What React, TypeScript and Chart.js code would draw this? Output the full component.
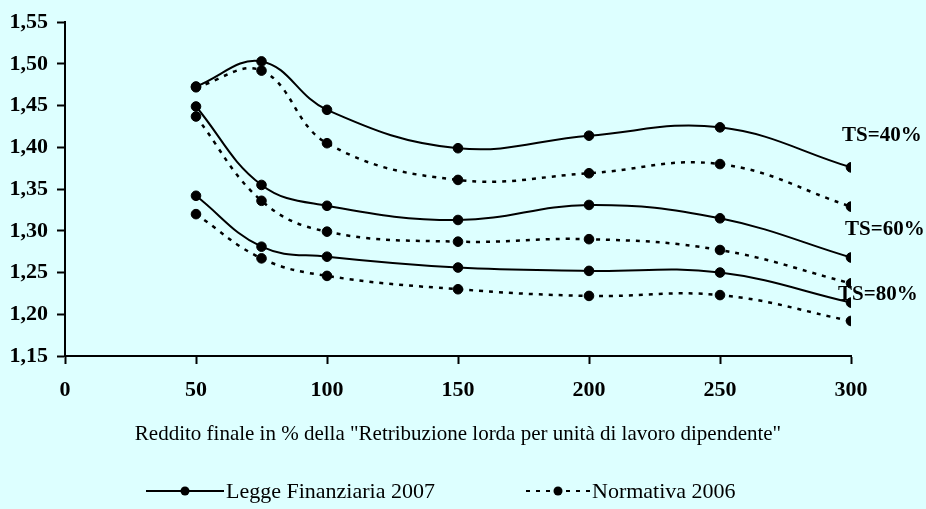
import React, { useEffect, useRef } from 'react';
import { Chart, registerables } from 'chart.js';

Chart.register(...registerables);

// ---- data ----
const xValues = [50, 75, 100, 150, 200, 250, 300];
const ts40Legge2007 = [1.473, 1.503, 1.445, 1.399, 1.414, 1.424, 1.376];
const ts40Normativa2006 = [1.472, 1.492, 1.405, 1.361, 1.369, 1.380, 1.329];
const ts60Legge2007 = [1.449, 1.355, 1.330, 1.313, 1.331, 1.315, 1.268];
const ts60Normativa2006 = [1.437, 1.336, 1.299, 1.287, 1.290, 1.277, 1.237];
const ts80Legge2007 = [1.342, 1.281, 1.269, 1.256, 1.252, 1.250, 1.214];
const ts80Normativa2006 = [1.320, 1.267, 1.246, 1.230, 1.222, 1.223, 1.192];

const xMin = 0;
const xMax = 300;
const xStep = 50;
const yMin = 1.15;
const yMax = 1.55;
const yStep = 0.05;

const seriesNames = ['Legge Finanziaria 2007', 'Normativa 2006'];
const tsLabels = ['TS=40%', 'TS=60%', 'TS=80%'];
const xTitle = 'Reddito finale in % della "Retribuzione lorda per unità di lavoro dipendente"';

const BG = '#DDFFFF';
const SERIF = "'Times New Roman', 'Liberation Serif', serif";

const toPoints = (ys: number[]) => ys.map((y, i) => ({ x: xValues[i], y }));

export default function App() {
  const canvasRef = useRef<HTMLCanvasElement | null>(null);

  useEffect(() => {
    const canvas = canvasRef.current;
    if (!canvas) return;

    const solid = (data: number[]) => ({
      label: seriesNames[0],
      data: toPoints(data),
      borderColor: '#000',
      backgroundColor: '#000',
      borderWidth: 2,
      pointRadius: 4.8,
      pointBorderWidth: 1,
      pointBackgroundColor: '#000',
      pointBorderColor: '#000',
      tension: 0.4,
      fill: false,
    });
    const dashed = (data: number[]) => ({
      ...solid(data),
      label: seriesNames[1],
      borderWidth: 2.5,
      borderDash: [4, 6],
    });

    const tsLabelPlugin = {
      id: 'tsLabels',
      afterDatasetsDraw(chart: any) {
        const { ctx, scales } = chart;
        const xs = scales.x;
        const ys = scales.y;
        const anchors = [
          { dx: -9, v: 1.4147 },
          { dx: -6, v: 1.3009 },
          { dx: -13, v: 1.2231 },
        ];
        ctx.save();
        ctx.fillStyle = '#000';
        ctx.font = `bold 21px ${SERIF}`;
        ctx.textAlign = 'left';
        ctx.textBaseline = 'middle';
        tsLabels.forEach((t, i) => {
          ctx.fillText(t, xs.getPixelForValue(xMax) + anchors[i].dx, ys.getPixelForValue(anchors[i].v));
        });
        ctx.restore();
      },
    };

    const legendPlugin = {
      id: 'customLegend',
      afterDraw(chart: any) {
        const { ctx } = chart;
        const y = 491;
        const items = [
          { x0: 146, x1: 224, dash: [] as number[], text: seriesNames[0] },
          { x0: 526, x1: 590, dash: [4, 6], text: seriesNames[1] },
        ];
        ctx.save();
        items.forEach((it) => {
          ctx.strokeStyle = '#000';
          ctx.lineWidth = 2;
          ctx.setLineDash(it.dash);
          ctx.beginPath();
          ctx.moveTo(it.x0, y);
          ctx.lineTo(it.x1, y);
          ctx.stroke();
          ctx.setLineDash([]);
          ctx.fillStyle = '#000';
          ctx.beginPath();
          ctx.arc((it.x0 + it.x1) / 2, y, 4.5, 0, Math.PI * 2);
          ctx.fill();
          ctx.font = `22px ${SERIF}`;
          ctx.textAlign = 'left';
          ctx.textBaseline = 'middle';
          ctx.fillText(it.text, it.x1 + 2, y + 1);
        });
        ctx.restore();
      },
    };

    const chart = new Chart(canvas, {
      type: 'line',
      data: {
        datasets: [
          solid(ts40Legge2007),
          dashed(ts40Normativa2006),
          solid(ts60Legge2007),
          dashed(ts60Normativa2006),
          solid(ts80Legge2007),
          dashed(ts80Normativa2006),
        ] as any,
      },
      options: {
        responsive: false,
        animation: false,
        layout: { padding: { top: 22, right: 75, left: 0, bottom: 0 } },
        plugins: {
          legend: { display: false },
          tooltip: { enabled: false },
          title: { display: false },
        },
        scales: {
          x: {
            type: 'linear',
            min: xMin,
            max: xMax,
            afterFit: (scale: any) => {
              scale.height = 153;
            },
            ticks: {
              stepSize: xStep,
              color: '#000',
              font: { family: SERIF, size: 22, weight: 'bold' },
              padding: 13,
              maxRotation: 0,
            },
            grid: {
              display: true,
              drawOnChartArea: false,
              drawTicks: true,
              tickLength: 8,
              tickWidth: 2,
              tickColor: '#000',
              color: '#000',
            },
            border: { display: true, color: '#000', width: 2 },
            title: {
              display: true,
              text: xTitle,
              color: '#000',
              font: { family: SERIF, size: 21, weight: 'normal' },
              padding: { top: 0, bottom: 62 },
            },
          },
          y: {
            type: 'linear',
            min: yMin,
            max: yMax,
            afterFit: (scale: any) => {
              scale.width = 65;
            },
            ticks: {
              stepSize: yStep,
              color: '#000',
              font: { family: SERIF, size: 22, weight: 'bold' },
              padding: 9,
              callback: (v: any) => Number(v).toFixed(2).replace('.', ','),
            },
            grid: {
              display: true,
              drawOnChartArea: false,
              drawTicks: true,
              tickLength: 8,
              tickWidth: 2,
              tickColor: '#000',
              color: '#000',
            },
            border: { display: true, color: '#000', width: 2 },
          },
        },
      } as any,
      plugins: [tsLabelPlugin, legendPlugin],
    });

    return () => {
      chart.destroy();
    };
  }, []);

  return (
    <div
      style={{
        position: 'fixed',
        left: 0,
        top: 0,
        width: 926,
        height: 509,
        background: BG,
      }}
    >
      <canvas ref={canvasRef} width={926} height={509} style={{ display: 'block' }} />
    </div>
  );
}
